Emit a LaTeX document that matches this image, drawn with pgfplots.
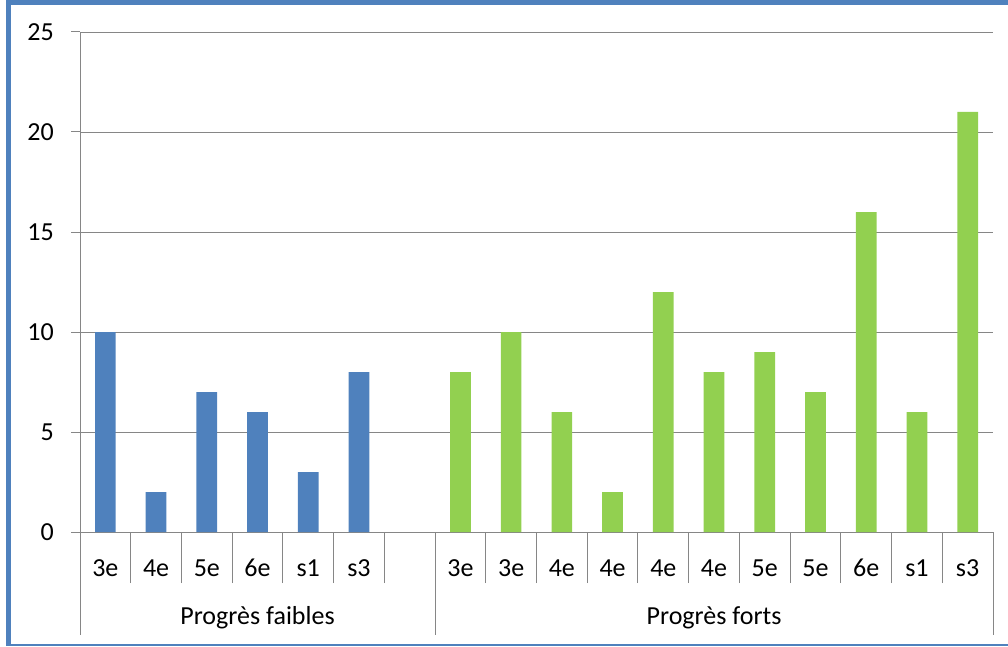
\documentclass[border=0pt]{standalone}
\usepackage{fontspec}
\setmainfont{Carlito}
\usepackage{pgfplots}
\pgfplotsset{compat=1.18}

\definecolor{xlblue}{HTML}{4F81BD}
\definecolor{xlgreen}{HTML}{92D050}
\definecolor{xlgrid}{HTML}{868686}

\begin{document}
\begin{tikzpicture}
\useasboundingbox (-80pt,-114pt) rectangle (928pt,532pt);
\begin{axis}[
  at={(0pt,0pt)}, anchor=south west,
  scale only axis, width=913pt, height=500pt,
  xmin=-0.5, xmax=17.5, ymin=0, ymax=25,
  axis lines*=left,
  axis line style={xlgrid, line width=1pt},
  tick style={xlgrid, line width=1pt},
  tick align=outside,
  major tick length=9pt,
  minor tick length=51pt,
  ytick={0,5,...,25},
  ymajorgrids,
  grid style={xlgrid, line width=0.8pt},
  xtick={0,...,17},
  xticklabels={3e,4e,5e,6e,s1,s3,,3e,3e,4e,4e,4e,4e,5e,5e,6e,s1,s3},
  minor xtick={0.5,1.5,...,16.5},
  major x tick style={draw=none},
  /pgf/number format/assume math mode=true,
  tick label style={font=\fontsize{26}{31}\selectfont, text=black},
  xticklabel style={anchor=base, inner sep=0pt, yshift=-35pt},
  yticklabel style={anchor=east, inner sep=0pt, xshift=-17pt},
  clip=false,
]
\addplot[ybar, bar width=20.7pt, bar shift=0pt, fill=xlblue, draw=none]
  coordinates {(0,10) (1,2) (2,7) (3,6) (4,3) (5,8)};
\addplot[ybar, bar width=20.7pt, bar shift=0pt, fill=xlgreen, draw=none]
  coordinates {(7,8) (8,10) (9,6) (10,2) (11,12) (12,8) (13,9) (14,7) (15,16) (16,6) (17,21)};
% long separators of the group row
\draw[xlgrid, line width=1pt] (axis cs:-0.5,0) -- ++(0pt,-103pt);
\draw[xlgrid, line width=1pt] (axis cs:6.5,0) -- ++(0pt,-103pt);
\draw[xlgrid, line width=1pt] (axis cs:17.5,0) -- ++(0pt,-103pt);
\node[anchor=base, font=\fontsize{26}{31}\selectfont, inner sep=0pt]
  at ([yshift=-92pt]axis cs:3,0) {Progrès faibles};
\node[anchor=base, font=\fontsize{26}{31}\selectfont, inner sep=0pt]
  at ([yshift=-92pt]axis cs:12,0) {Progrès forts};
\end{axis}
% frame
\fill[xlblue] (-74pt,-114pt) rectangle (-69pt,532pt);
\fill[xlblue] (-74pt,527pt) rectangle (928pt,532pt);
\fill[xlblue] (-74pt,-114pt) rectangle (928pt,-112pt);
\end{tikzpicture}
\end{document}
